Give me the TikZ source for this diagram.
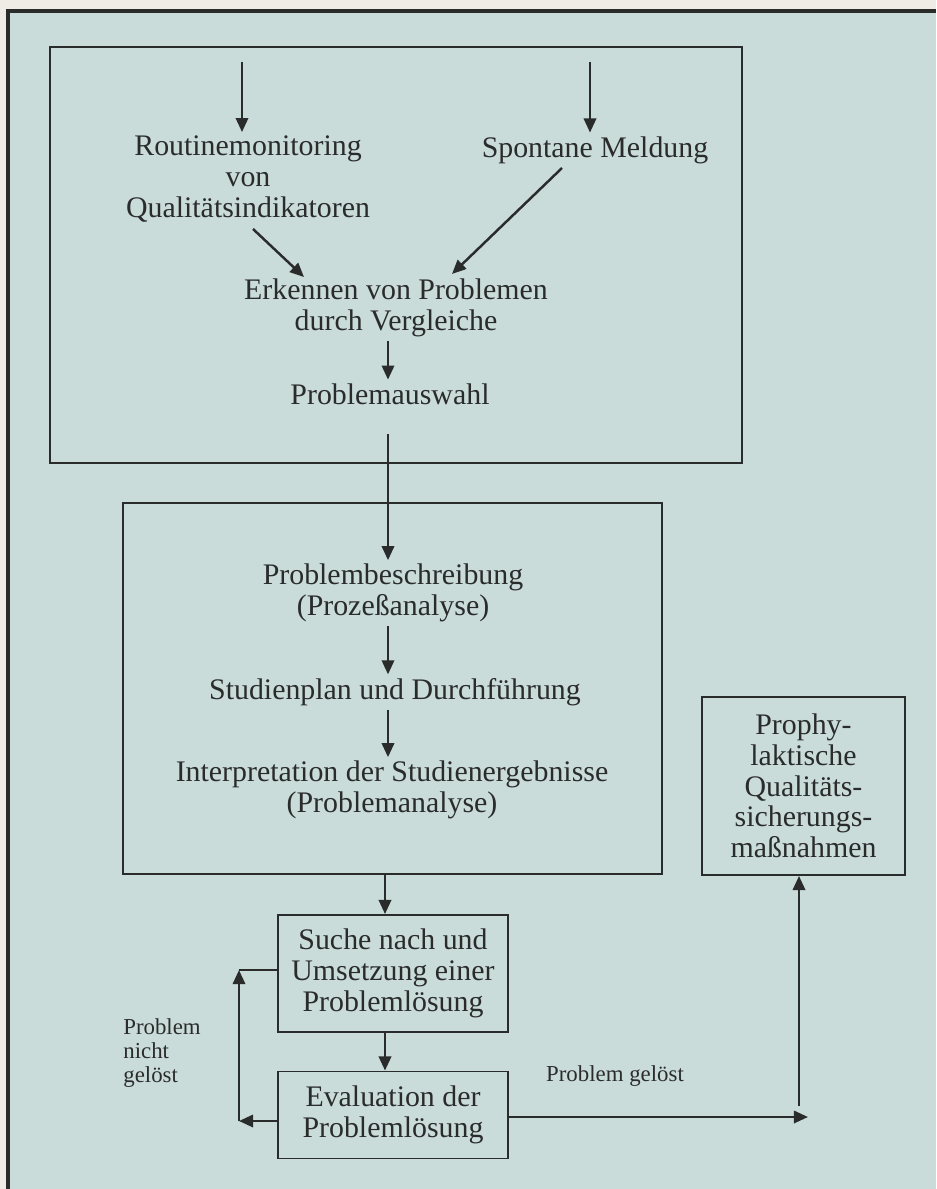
\documentclass[tikz,border=0pt]{standalone}
\usepackage{fontspec}
\setmainfont{Liberation Serif}
\usepackage{xcolor}
\usetikzlibrary{arrows.meta,positioning,calc}
\definecolor{papier}{RGB}{238,236,228}
\definecolor{tafel}{RGB}{202,220,218}
\definecolor{tinte}{RGB}{42,44,44}

\begin{document}
\begin{tikzpicture}[x=0.02cm,y=-0.02cm,
  pfeil/.style={-{Triangle[length=8pt,width=7pt]},line width=1.4pt,draw=tinte},
  linie/.style={line width=1.4pt,draw=tinte},
  kasten/.style={draw=tinte,line width=1.1pt,align=center,inner sep=0pt,text=tinte,
    font=\fontsize{17}{17.5}\selectfont},
  txt/.style={align=center,inner sep=2pt,text=tinte,font=\fontsize{17}{17.5}\selectfont},
  klein/.style={align=left,inner sep=0pt,text=tinte,font=\fontsize{13}{13.5}\selectfont}]
\useasboundingbox (0,0) rectangle (936,1189);
\fill[papier] (0,0) rectangle (936,1189);
\fill[tafel] (8,11) rectangle (936,1189);
\draw[tinte,line width=1.8pt] (8,1189) -- (8,11) -- (936,11);

% Rahmen
\node[kasten,minimum width=13.84cm,minimum height=8.32cm] (oben) at (396,255) {};
\node[kasten,minimum width=10.78cm,minimum height=7.42cm] (mitte) at (392.5,688.5) {};

% oberer Teil
\coordinate (ein1) at (242,62);
\coordinate (ein2) at (590,62);
\coordinate (px) at (388,0);
\node[txt] (routine) at (248,179) {Routinemonitoring\\von\\Qualitätsindikatoren};
\node[txt] (spontan) at (595,150) {Spontane Meldung};
\node[txt] (erkennen) at (396,308) {Erkennen von Problemen\\durch Vergleiche};
\node[txt] (auswahl) at (390,394) {Problemauswahl};
\draw[pfeil] (ein1) -- (ein1 |- routine.north);
\draw[pfeil] (ein2) -- (ein2 |- spontan.north);
\coordinate (d1) at (253,229);
\coordinate (d2) at (562,168);
\draw[pfeil] (d1) -- (304,277);
\draw[pfeil] (d2) -- (452,274);
\draw[pfeil] (erkennen.south -| px) -- (auswahl.north -| px);

% mittlerer Teil
\node[txt] (beschr) at (393,593) {Problembeschreibung\\(Prozeßanalyse)};
\node[txt] (studien) at (395,692) {Studienplan und Durchführung};
\node[txt] (interp) at (392,790) {Interpretation der Studienergebnisse\\(Problemanalyse)};
\draw[pfeil] ($(oben.south -| px)+(0,-30)$) -- (beschr.north -| px);
\draw[pfeil] (beschr.south -| px) -- (studien.north -| px);
\draw[pfeil] (studien.south -| px) -- (interp.north -| px);

% unterer Teil
\node[kasten,minimum width=4.6cm,minimum height=2.34cm] (suche) at (393,973.5)
  {Suche nach und\\Umsetzung einer\\Problemlösung};
\node[kasten,minimum width=4.6cm,minimum height=1.74cm] (eval) at (393,1115)
  {Evaluation der\\Problemlösung};
\node[kasten,minimum width=4.06cm,minimum height=3.56cm] (prophy) at (803.5,786)
  {Prophy-\\laktische\\Qualitäts-\\sicherungs-\\maßnahmen};
\coordinate (qx) at (385,0);
\draw[pfeil] (mitte.south -| qx) -- (suche.north -| qx);
\draw[pfeil] (suche.south -| qx) -- (eval.north -| qx);

% Schleife links
\coordinate (lu) at (239,1121);
\coordinate (lo) at (239,970);
\draw[pfeil] (eval.west |- lu) -- (lu);
\draw[pfeil] (lu) -- (lo);
\draw[linie] (lo) -- (suche.west |- lo);
\node[klein,anchor=west] (nicht) at (123,1053) {Problem\\nicht\\gelöst};

% rechts
\coordinate (ru) at (808,1117);
\coordinate (rv) at (799,1106);
\draw[pfeil] (eval.east |- ru) -- (ru);
\draw[pfeil] (rv) -- (rv |- prophy.south);
\node[klein] (geloest) at (615,1076) {Problem gelöst};
\end{tikzpicture}
\end{document}
